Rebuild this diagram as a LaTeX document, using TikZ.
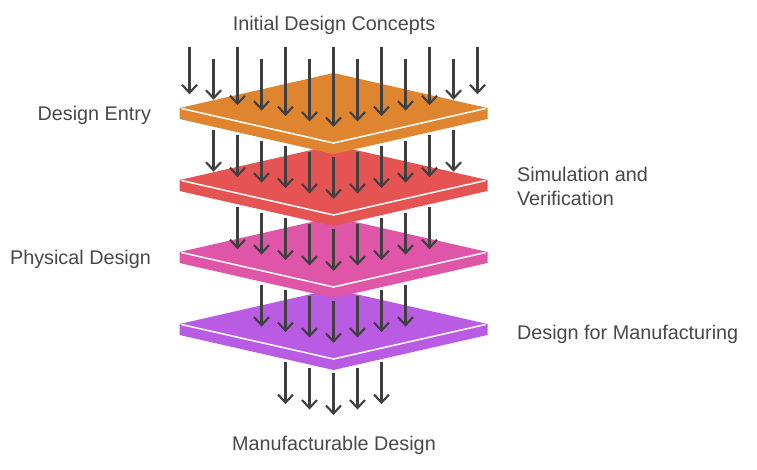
\documentclass[tikz,border=0pt]{standalone}
\usepackage{fontspec}
\setmainfont{Liberation Sans}
\usetikzlibrary{arrows.meta}
\definecolor{ink}{RGB}{64, 64, 64}
\definecolor{label}{RGB}{72, 72, 72}
\definecolor{carrot}{RGB}{224, 133, 47}
\definecolor{coral}{RGB}{229, 84, 83}
\definecolor{rose}{RGB}{223, 86, 168}
\definecolor{violet}{RGB}{185, 92, 227}
\def\xmid{333.5}
\def\xhalf{154}
\def\yhalf{35}
\def\slabdepth{11}
\def\arrowgap{24}
\def\slope{5.45}

\begin{document}
\begin{tikzpicture}[x=1pt, y=-1pt, line width=2.1pt,
  caption/.style={text=label, inner sep=0pt, font=\fontsize{19.8}{24}\selectfont},
  flow/.style={ink, -{Straight Barb[length=8pt, width=15pt]}}]

                 \useasboundingbox (0, 0) rectangle (757, 469);

                 \node[caption, anchor=base] (concepts) at (334, 30) {Initial Design Concepts};
                 \node[caption, anchor=base east] (entry) at (152, 120) {Design Entry};
                 \node[caption, anchor=base west, align=left] (verify) at (516, 205) {Simulation and\\Verification};
                 \node[caption, anchor=base east] (physical) at (152, 264.5) {Physical Design};
                 \node[caption, anchor=base west] (dfm) at (516, 339) {Design for Manufacturing};
                 \node[caption, anchor=base] (result) at (334, 450) {Manufacturable Design};

                 % arrows below the last slab
                 \foreach \i in {-2,...,2} {
                   \pgfmathsetmacro\ystart{157+72*3-\slope*abs(\i)}
                   \pgfmathsetmacro\ytip{127+72*4-\slope*abs(\i)}
                   \draw[flow] (\xmid+\arrowgap*\i, \ystart) -- (\xmid+\arrowgap*\i, \ytip);
                 }

                 % slabs from the bottom up, each with the arrows landing on it
                 \foreach \k/\col in {3/violet, 2/rose, 1/coral, 0/carrot} {
                   \pgfmathsetmacro\c{108+72*\k}
                   \fill[\col] (\xmid-\xhalf, \c) -- ++(0, \slabdepth) --
                     (\xmid, \c+\yhalf+\slabdepth) -- (\xmid+\xhalf, \c+\slabdepth) --
                     ++(0, -\slabdepth) -- (\xmid, \c-\yhalf) -- cycle;
                   \draw[white, line width=1.5pt] (\xmid-\xhalf+2, \c+0.5) --
                     (\xmid, \c+\yhalf) -- (\xmid+\xhalf-2, \c+0.5);
                   \pgfmathtruncatemacro\n{6-\k}
                   \foreach \i in {-\n,...,\n} {
                     \pgfmathsetmacro\ystart{\k==0 ? (mod(abs(\i),2)==1 ? 59 : 47) : 157+72*(\k-1)-\slope*abs(\i)}
                     \pgfmathsetmacro\ytip{127+72*\k-\slope*abs(\i)}
                     \draw[flow] (\xmid+\arrowgap*\i, \ystart) -- (\xmid+\arrowgap*\i, \ytip);
                   }
                 }

             \end{tikzpicture}
\end{document}
